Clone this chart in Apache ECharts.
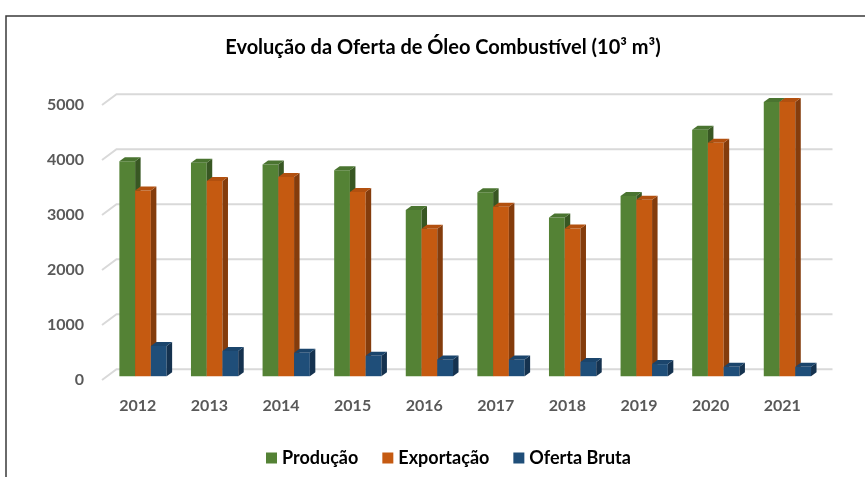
<!DOCTYPE html>
<html>
<head>
<meta charset="utf-8">
<script src="https://cdn.jsdelivr.net/npm/echarts@6/dist/echarts.min.js"></script>
<style>
  html, body { margin: 0; padding: 0; background: #fff; }
  #chart01 { width: 865px; height: 477px; }
</style>
</head>
<body>
<div id="chart01"></div>
<script>
var anos        = ['2012', '2013', '2014', '2015', '2016', '2017', '2018', '2019', '2020', '2021'];
var producao    = [3910, 3880, 3850, 3745, 3020, 3345, 2885, 3275, 4480, 4985];
var exportacao  = [3375, 3550, 3620, 3350, 2680, 3080, 2685, 3210, 4245, 4985];
var ofertaBruta = [550, 460, 425, 370, 305, 305, 260, 220, 170, 170];
var yTicks      = [0, 1000, 2000, 3000, 4000, 5000];

var nomes   = ['Produção', 'Exportação', 'Oferta Bruta'];
var frente  = ['#548235', '#c55a11', '#1f4e79'];
var topo    = ['#4a7430', '#b2500f', '#1b456c'];
var lado    = ['#385723', '#843c0c', '#15324f'];
var fonte   = 'Lato, "Open Sans", sans-serif';

// deslocamento da parede do fundo (efeito 3D)
var wallDx = 14.5, wallDy = -10.7;
// posição das barras dentro da profundidade
var barDx = 5.2, barDy = -3.8, depthX = 5.5, depthY = -4;

function barra(si) {
    return function (params, api) {
        var idx  = api.value(0);
        var base = api.coord([idx, 0]);
        var top  = api.coord([idx, api.value(1)]);
        var band = api.size([1, 0])[0];
        var w    = band * 0.22;
        var x0   = base[0] - 1.5 * w + si * w + barDx;
        var x1   = x0 + w;
        var yb   = base[1] + barDy;
        var yt   = top[1] + barDy;
        return {
            type: 'group',
            children: [
                { type: 'rect', shape: { x: x0, y: yt, width: w, height: yb - yt },
                  style: { fill: frente[si] } },
                { type: 'polygon', shape: { points: [[x1, yt], [x1 + depthX, yt + depthY], [x1 + depthX, yb + depthY], [x1, yb]] },
                  style: { fill: lado[si] } },
                { type: 'polygon', shape: { points: [[x0, yt], [x0 + depthX, yt + depthY], [x1 + depthX, yt + depthY], [x1, yt]] },
                  style: { fill: topo[si] } }
            ]
        };
    };
}

var serieData = [producao, exportacao, ofertaBruta];
var series = [{
    name: 'parede',
    type: 'custom',
    silent: true,
    clip: false,
    data: yTicks.map(function (v) { return [0, v]; }),
    renderItem: function (params, api) {
        var p  = api.coord([0, api.value(1)]);
        var cs = params.coordSys;
        var xl = cs.x, xr = cs.x + cs.width;
        return {
            type: 'polyline',
            shape: { points: [[xl, p[1]], [xl + wallDx, p[1] + wallDy], [xr + wallDx, p[1] + wallDy]] },
            style: { stroke: '#d9d9d9', lineWidth: 2, fill: null }
        };
    }
}];
serieData.forEach(function (arr, si) {
    series.push({
        name: nomes[si],
        type: 'custom',
        clip: false,
        itemStyle: { color: frente[si] },
        data: arr.map(function (v, i) { return [i, v]; }),
        renderItem: barra(si)
    });
});

var cha01 = echarts.init(document.getElementById('chart01'));
var opt01 = {
    animation: false,
    graphic: [
        { type: 'rect', shape: { x: 6, y: 16, width: 900, height: 500 },
          style: { fill: null, stroke: '#3a3a3a', lineWidth: 1.5 }, silent: true },
        { type: 'text', x: 443, y: 48,
          style: { text: 'Evolução da Oferta de Óleo Combustível (10³ m³)', font: 'bold 20px ' + fonte,
                   fill: '#000', align: 'center', verticalAlign: 'middle' } }
    ],
    legend: {
        data: nomes,
        left: 261,
        top: 444,
        icon: 'rect',
        itemWidth: 11,
        itemHeight: 11,
        itemGap: 24,
        textStyle: { fontFamily: fonte, fontWeight: 'bold', fontSize: 18, color: '#000' }
    },
    grid: { left: 102, right: 47, top: 105, bottom: 97, containLabel: false },
    xAxis: {
        type: 'category',
        data: anos,
        axisLine: { show: false },
        axisTick: { show: false },
        axisLabel: { margin: 18, fontFamily: fonte, fontWeight: 'bold', fontSize: 16, color: '#595959' }
    },
    yAxis: {
        type: 'value',
        min: 0,
        max: 5000,
        interval: 1000,
        axisLine: { show: false },
        axisTick: { show: false },
        splitLine: { show: false },
        axisLabel: { margin: 18, fontFamily: fonte, fontWeight: 'bold', fontSize: 16, color: '#595959',
                     formatter: function (v) { return String(v); } }
    },
    series: series
};
cha01.setOption(opt01);
</script>
</body>
</html>
